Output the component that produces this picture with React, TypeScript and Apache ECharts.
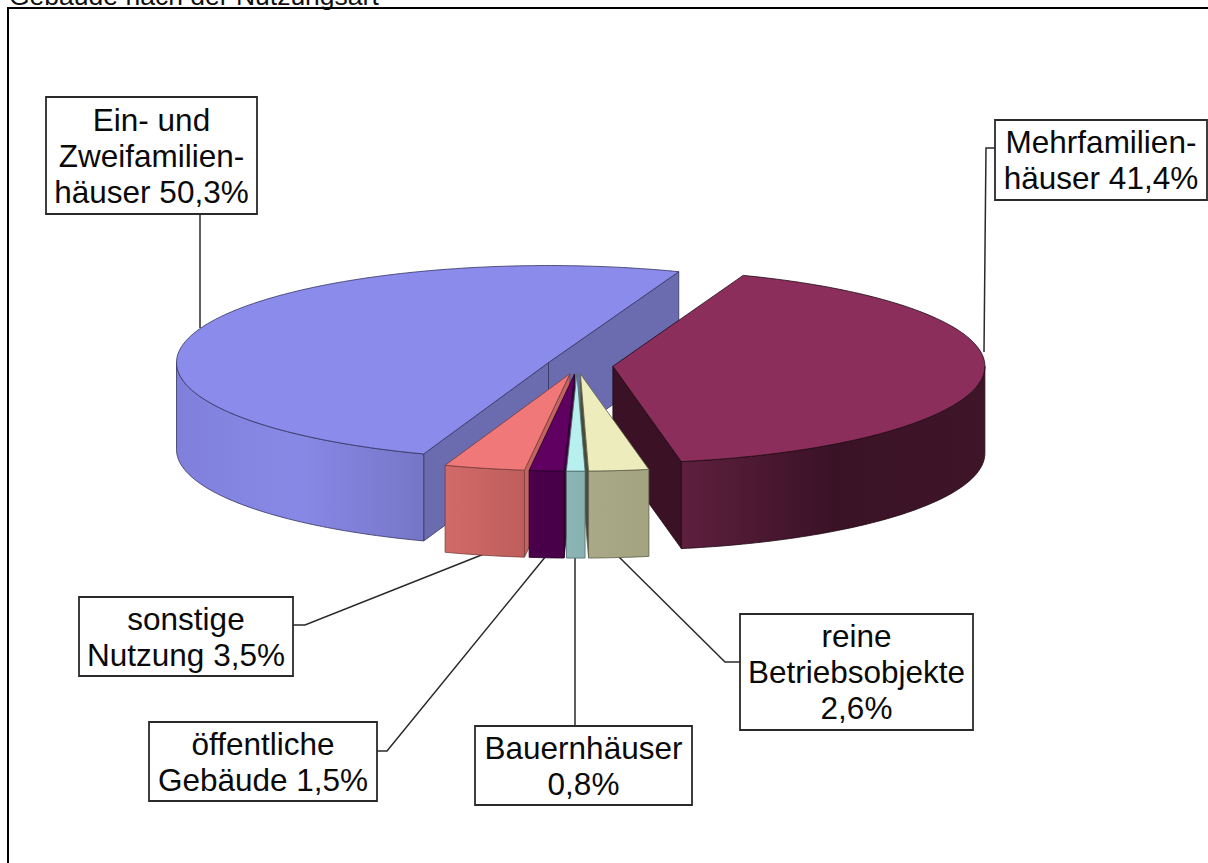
import React, { useEffect, useRef } from "react";
import * as echarts from "echarts";

// Clockwise from the pie's start angle
const categories = ["Mehrfamilienhäuser", "reine Betriebsobjekte", "Bauernhäuser", "öffentliche Gebäude", "sonstige Nutzung", "Ein- und Zweifamilienhäuser"];
const values = [41.4, 2.6, 0.8, 1.5, 3.5, 50.3];
const labelTexts = [
  "Mehrfamilien-\nhäuser 41,4%",
  "reine\nBetriebsobjekte\n2,6%",
  "Bauernhäuser\n0,8%",
  "öffentliche\nGebäude 1,5%",
  "sonstige\nNutzung 3,5%",
  "Ein- und\nZweifamilien-\nhäuser 50,3%",
];
const titleText = "Gebäude nach der Nutzungsart";

const topColors = ["#8C2E5C", "#ECECBC", "#B8F0F0", "#600060", "#F07878", "#8B8BEB"];
const faceColors = ["#3B1225", "#4A4A38", "#7FA8A8", "#480048", "#C46460", "#6B6BB0"];
const sideStops = [
  ["#5E1F3E", "#3A1226", "#3F1528"],
  ["#A9A98A", "#A6A684", "#A3A380"],
  ["#8CB6B6", "#8AB4B4", "#88B0B0"],
  ["#4A004A", "#480048", "#480048"],
  ["#D06A68", "#C86462", "#BE5E5C"],
  ["#8080DC", "#8888E6", "#7676C8"],
];
const strokes = ["#1E0812", "#5E5E48", "#4E6E6E", "#240024", "#7A3C3A", "#33335F"];
// paint order: back to front
const paintOrder = [5, 0, 4, 3, 1, 2];
// small horizontal correction of each slice's exploded position
const shiftX = [0.5, -2.5, -2.5, -2.5, -2, 0];

// label box [x0, y0, x1, y1] and leader line points
const boxes = [
  [995, 120, 1207, 200],
  [740, 614, 973, 730],
  [475, 726, 692, 805],
  [149, 722, 377, 801],
  [79, 597, 293, 676],
  [46, 97, 257, 214],
];
const leaders = [
  [[995, 148], [986, 148], [984, 352]],
  [[740, 662], [725, 662], [618, 556]],
  [[575, 726], [575, 557]],
  [[377, 751], [387, 751], [546, 556]],
  [[293, 625], [305, 625], [484, 554]],
  [[200, 214], [200, 328]],
];

const CX = 579.5, CY = 365.5, RX = 372, RY = 97, DEPTH = 87, EXPLODE = 33, START = 69.5;
const total = values.reduce((a, b) => a + b, 0);
const D2R = Math.PI / 180;

const slices = (() => {
  let a = START;
  return values.map((v, i) => {
    const a1 = a;
    const a2 = a - (v / total) * 360;
    a = a2;
    const mid = ((a1 + a2) / 2) * D2R;
    return {
      a1, a2,
      cx: CX + EXPLODE * Math.cos(mid) + shiftX[i],
      cy: CY - (EXPLODE * RY / RX) * Math.sin(mid),
    };
  });
})();

function arcPoints(s: any, from: number, to: number, dy: number) {
  const n = Math.max(2, Math.ceil(Math.abs(from - to)));
  const pts: number[][] = [];
  for (let i = 0; i <= n; i++) {
    const t = (from + ((to - from) * i) / n) * D2R;
    pts.push([s.cx + RX * Math.cos(t), s.cy - RY * Math.sin(t) + dy]);
  }
  return pts;
}

function renderSlice(params: any) {
  const idx = paintOrder[params.dataIndex];
  const s = slices[idx];
  const line = { stroke: strokes[idx], lineWidth: 0.8 };
  const children: any[] = [];
  const faceAt = (angle: number) => {
    const t = angle * D2R;
    const p = [s.cx + RX * Math.cos(t), s.cy - RY * Math.sin(t)];
    return {
      type: "polygon",
      shape: { points: [[s.cx, s.cy], p, [p[0], p[1] + DEPTH], [s.cx, s.cy + DEPTH]] },
      style: { fill: faceColors[idx], ...line },
    };
  };
  // inner cut faces whose outward normal looks to the viewer
  if (Math.sin((s.a1 + 90) * D2R) < 0) children.push(faceAt(s.a1));
  if (Math.sin((s.a2 - 90) * D2R) < 0) children.push(faceAt(s.a2));

  // outer wall, only on the front half of the ellipse
  const wallFrom = Math.min(s.a1, 0);
  const wallTo = Math.max(s.a2, -180);
  if (wallFrom > wallTo) {
    const top = arcPoints(s, wallFrom, wallTo, 0);
    const bottom = arcPoints(s, wallTo, wallFrom, DEPTH);
    const stops = sideStops[idx];
    children.push({
      type: "polygon",
      shape: { points: [...top, ...bottom] },
      style: {
        fill: new echarts.graphic.LinearGradient(0, 0, 1, 0, [
          { offset: 0, color: stops[0] },
          { offset: 0.5, color: stops[1] },
          { offset: 1, color: stops[2] },
        ]),
        ...line,
      },
    });
  }
  // top face
  children.push({
    type: "polygon",
    shape: { points: [[s.cx, s.cy], ...arcPoints(s, s.a1, s.a2, 0)] },
    style: { fill: topColors[idx], ...line },
  });
  return { type: "group", children };
}

function renderLabel(params: any) {
  const i = params.dataIndex;
  const [x0, y0, x1, y1] = boxes[i];
  return {
    type: "group",
    children: [
      {
        type: "polyline",
        shape: { points: leaders[i] },
        style: { fill: "none", stroke: "#2a2a2a", lineWidth: 1.5 },
      },
      {
        type: "rect",
        shape: { x: x0, y: y0, width: x1 - x0, height: y1 - y0 },
        style: { fill: "#ffffff", stroke: "#2a2a2a", lineWidth: 1.8 },
      },
      {
        type: "text",
        style: {
          text: labelTexts[i],
          x: (x0 + x1) / 2,
          y: (y0 + y1) / 2,
          align: "center",
          verticalAlign: "middle",
          font: '31.5px "Liberation Sans", Arial, sans-serif',
          lineHeight: 36,
          fill: "#0a0a0a",
        },
      },
    ],
  };
}

export default function App() {
  const ref = useRef<HTMLDivElement>(null);
  useEffect(() => {
    const chart = echarts.init(ref.current!, undefined, { renderer: "svg" });
    chart.setOption({
      animation: false,
      backgroundColor: "#ffffff",
      graphic: [
        {
          type: "text",
          x: 9,
          y: 9,
          style: {
            text: titleText,
            font: '26.5px "Liberation Sans", Arial, sans-serif',
            fill: "#111111",
            verticalAlign: "bottom",
          },
        },
        {
          type: "polyline",
          shape: { points: [[8, 863], [8, 8], [1208, 8]] },
          style: { fill: "none", stroke: "#000000", lineWidth: 2 },
        },
      ],
      series: [
        {
          type: "custom",
          name: "Gebäude",
          coordinateSystem: "none",
          renderItem: renderSlice,
          data: paintOrder.map((i) => ({ name: categories[i], value: values[i] })),
          clip: false,
          silent: true,
          z: 2,
        },
        {
          type: "custom",
          name: "Beschriftung",
          coordinateSystem: "none",
          renderItem: renderLabel,
          data: categories.map((c, i) => ({ name: c, value: values[i] })),
          clip: false,
          silent: true,
          z: 1,
        },
      ],
    });
    return () => chart.dispose();
  }, []);
  return <div ref={ref} style={{ position: "fixed", left: 0, top: 0, width: 1208, height: 863 }} />;
}
